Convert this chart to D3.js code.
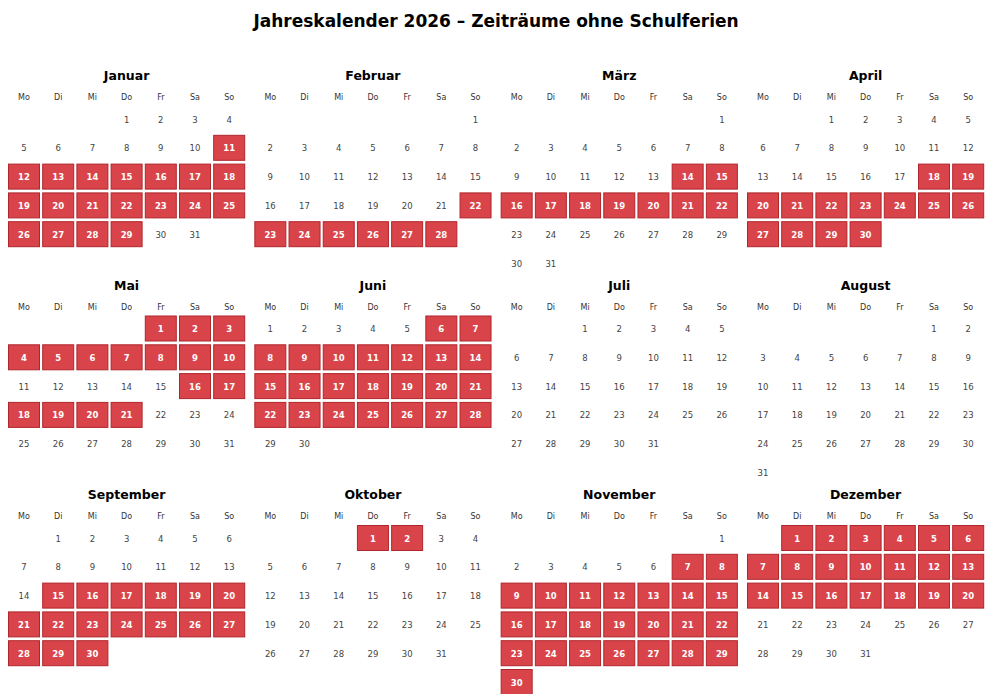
<!DOCTYPE html>
<html><head><meta charset="utf-8">
<script src="https://cdn.jsdelivr.net/npm/d3@7"></script>
<style>body{margin:0;background:#fff;font-family:"DejaVu Sans",sans-serif;}</style>
</head><body>
<script>
var w = 992, h = 694;
var year = 2026;
var months = ["Januar","Februar","März","April","Mai","Juni","Juli","August","September","Oktober","November","Dezember"];
var weekdays = ["Mo","Di","Mi","Do","Fr","Sa","So"];
// highlighted ranges per month (start day, end day)
var highlights = [
  [[11,29]], [[22,28]], [[14,22]], [[18,30]],
  [[1,10],[16,21]], [[6,28]], [], [],
  [[15,30]], [[1,2]], [[7,30]], [[1,20]]
];

var svg = d3.select("body").append("svg").attr("width", w).attr("height", h);

svg.append("text").attr("x", w/2).attr("y", 27).attr("text-anchor","middle")
  .style("font-size","17px").style("font-weight","bold").text("Jahreskalender 2026 – Zeiträume ohne Schulferien");

var colScale = d3.scaleLinear().domain([0,3]).range([24, 763]); // Mo x of each month column
var rowScale = d3.scaleLinear().domain([0,2]).range([76, 495]); // month title y
var dx = 34.2, dy = 28.8;

months.forEach(function(name, m) {
  var x0 = colScale(m % 4), y0 = rowScale(Math.floor(m / 4));
  var xs = d3.scaleLinear().domain([0,6]).range([x0, x0 + 6*dx]);
  var ys = d3.scaleLinear().domain([0,1]).range([y0 + 43, y0 + 43 + dy]);
  var g = svg.append("g");
  g.append("text").attr("x", xs(3)).attr("y", y0 + 4).attr("text-anchor","middle")
    .style("font-size","12.5px").style("font-weight","bold").text(name);
  g.selectAll(".wd").data(weekdays).join("text")
    .attr("x", function(d,i){return xs(i);}).attr("y", y0 + 24)
    .attr("text-anchor","middle").style("font-size","8px").attr("fill","#333").text(function(d){return d;});
  var nDays = new Date(year, m+1, 0).getDate();
  var first = (new Date(year, m, 1).getDay() + 6) % 7;
  var days = d3.range(1, nDays+1).map(function(d){
    var idx = first + d - 1;
    var hl = highlights[m].some(function(r){return d >= r[0] && d <= r[1];});
    return {d: d, c: idx % 7, r: Math.floor(idx / 7), hl: hl};
  });
  g.selectAll("rect").data(days.filter(function(d){return d.hl;})).join("rect")
    .attr("x", function(d){return xs(d.c) - 15.5;}).attr("y", function(d){return ys(d.r) - 12.5;})
    .attr("width", 31).attr("height", 25)
    .attr("fill", "#d9444a").attr("stroke", "#b0262c").attr("stroke-width", 1);
  g.selectAll(".day").data(days).join("text")
    .attr("x", function(d){return xs(d.c);}).attr("y", function(d){return ys(d.r) + 3.5;})
    .attr("text-anchor","middle").style("font-size","8.5px")
    .style("font-weight", function(d){return d.hl ? "bold" : "normal";})
    .attr("fill", function(d){return d.hl ? "#fff" : "#444";})
    .text(function(d){return d.d;});
});
</script>
</body></html>
